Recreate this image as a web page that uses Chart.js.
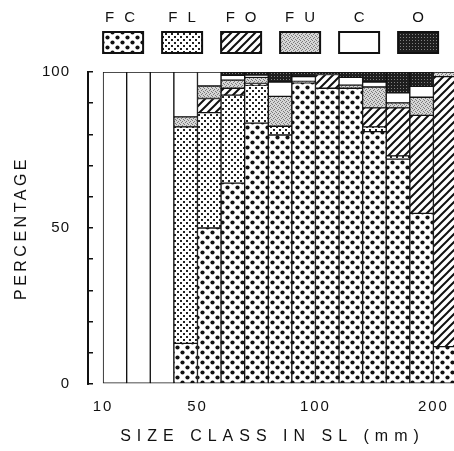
<!DOCTYPE html>
<html><head><meta charset="utf-8">
<script src="https://cdn.jsdelivr.net/npm/chart.js@4.4.0/dist/chart.umd.min.js"></script>
<style>
html,body{margin:0;padding:0;background:#fff;overflow:hidden;width:454px;height:451px}
#wrap{position:absolute;left:0;top:0;width:470px;height:451px}
</style></head><body>
<div id="wrap"><canvas id="c" width="470" height="451"></canvas></div>
<script>
// size classes (lower bound of class, SL in mm)
const categories = [10,20,30,40,50,60,70,80,90,100,120,140,160,180,200];
const tickLabels = ['10','50','100','200'];
const yTickLabels = [0,50,100];
const seriesNames = ['FC','FL','FO','FU','C','O'];
const FC = [0,0,0,13,50,64.4,83.6,79.8,96.5,94.8,94.8,80.9,72.1,54.7,12];
const FL = [0,0,0,69.4,37,28.2,12.2,2.8,0,0,0,1.5,1,0,0];
const FO = [0,0,0,0,4.5,2.2,0.5,0,0,4.4,0,6.1,15.4,31.4,86.5];
const FU = [0,0,0,3.2,4,2.6,2,9.6,0.5,0,1,6.7,1.6,5.8,1.5];
const C  = [100,100,100,14.4,4.5,1.5,0.7,4.6,1.5,0,2.5,1.6,3.2,3.5,0];
const O  = [0,0,0,0,0,1.1,1,3.2,1.5,0.8,1.7,3.2,6.7,4.6,0];

const canvas = document.getElementById('c');
const mainCtx = canvas.getContext('2d');
function makePattern(w,h,draw){
  const t=document.createElement('canvas'); t.width=w; t.height=h;
  const g=t.getContext('2d'); draw(g,w,h);
  return mainCtx.createPattern(t,'repeat');
}
const pFC = makePattern(10,10,(g,w,h)=>{g.fillStyle='#fff';g.fillRect(0,0,w,h);g.fillStyle='#111';
  [[2.5,2.5],[7.5,7.5]].forEach(([x,y])=>{g.beginPath();g.arc(x,y,2.1,0,Math.PI*2);g.fill();});});
const pFL = makePattern(6,6,(g,w,h)=>{g.fillStyle='#fff';g.fillRect(0,0,w,h);g.fillStyle='#222';
  g.fillRect(0,0,2,2);g.fillRect(3,3,2,2);});
const pFO = makePattern(8,8,(g,w,h)=>{g.fillStyle='#fff';g.fillRect(0,0,w,h);g.strokeStyle='#111';g.lineWidth=2;
  g.beginPath();g.moveTo(-1,9);g.lineTo(9,-1);g.moveTo(-5,5);g.lineTo(5,-5);g.moveTo(3,13);g.lineTo(13,3);g.stroke();});
const pFU = makePattern(4,4,(g,w,h)=>{g.fillStyle='#d6d6d6';g.fillRect(0,0,w,h);g.fillStyle='#7a7a7a';
  [[0,0],[2,1],[1,2],[3,3]].forEach(([x,y])=>g.fillRect(x,y,1,1));});
const pC = '#ffffff';
const pO = makePattern(3,3,(g,w,h)=>{g.fillStyle='#1e1e1e';g.fillRect(0,0,w,h);g.fillStyle='#808080';g.fillRect(1,1,1,1);});

const seriesValues = [FC,FL,FO,FU,C,O];
const fills = [pFC,pFL,pFO,pFU,pC,pO];

const datasets = seriesNames.map((name,k)=>({
  label: name,
  data: seriesValues[k].map((v,i)=>({x:i+0.5, y: v ? v : null})),
  backgroundColor: fills[k],
  borderColor: '#111',
  borderWidth: 1,
  borderSkipped: false,
  barPercentage: 1,
  categoryPercentage: 1
}));

function withSpacing(fn, sp){
  return function(...a){ const ctx=this.ctx; ctx.save(); ctx.letterSpacing=sp; fn.apply(this,a); ctx.restore(); };
}
const spacingPlugin = {
  id:'spacing',
  afterUpdate(chart){
    const x=chart.scales.x, y=chart.scales.y;
    if(!x.$sp){ x.drawTitle=withSpacing(x.drawTitle,'6px'); x.drawLabels=withSpacing(x.drawLabels,'2px'); x.$sp=1; }
    if(!y.$sp){ y.drawTitle=withSpacing(y.drawTitle,'3.5px'); y.drawLabels=withSpacing(y.drawLabels,'1px'); y.$sp=1; }
  }
};
// y axis line drawn through the y scale
const axisLinePlugin = {
  id:'axisLine',
  afterDraw(chart){
    const y = chart.scales.y, ctx = chart.ctx;
    ctx.save(); ctx.strokeStyle='#111'; ctx.lineWidth=2;
    ctx.beginPath(); ctx.moveTo(y.right, y.getPixelForValue(y.max)-0.75); ctx.lineTo(y.right, y.getPixelForValue(y.min)+0.75); ctx.stroke();
    ctx.restore();
  }
};
const legendPlugin = {
  id:'topLegend',
  afterDraw(chart){
    const ctx=chart.ctx;
    const left = chart.scales.x.getPixelForValue(0);
    const sp = 10;
    chart.data.datasets.forEach((ds,i)=>{
      const x = left + i*59, y = 32, w = 40, h = 21;
      ctx.save();
      ctx.fillStyle = ds.backgroundColor; ctx.fillRect(x,y,w,h);
      ctx.lineWidth = 2; ctx.strokeStyle = '#111'; ctx.strokeRect(x,y,w,h);
      ctx.font = '15px "Liberation Sans", Arial, sans-serif';
      ctx.letterSpacing = sp + 'px';
      ctx.textAlign = 'left'; ctx.textBaseline = 'middle'; ctx.fillStyle = '#111';
      const tw = ctx.measureText(ds.label).width - sp;
      ctx.fillText(ds.label, x + w/2 - tw/2 - (i === 0 ? 3 : 0), 18);
      ctx.restore();
    });
  }
};

new Chart(canvas, {
  type: 'bar',
  data: { datasets },
  options: {
    responsive: false,
    animation: false,
    devicePixelRatio: 1,
    layout: { padding: { top: 72, right: 13, bottom: 5, left: 0 } },
    plugins: { legend: { display: false }, tooltip: { enabled: false } },
    scales: {
      x: {
        type: 'linear', stacked: true, offset: false, min: -0.64, max: categories.length,
        afterFit: (s) => { s.height = 62; },
        grid: { display: false, drawTicks: false, offset: false },
        border: { display: false },
        afterBuildTicks: (s) => { s.ticks = tickLabels.map(l => ({ value: categories.indexOf(Number(l)) })); },
        ticks: { autoSkip: false, maxRotation: 0, padding: 14, color: '#111',
          font: { family: '"Liberation Sans", Arial, sans-serif', size: 15 },
          callback: (v) => String(categories[v]) },
        title: { display: true, text: 'SIZE CLASS IN SL (mm)', color: '#111',
          font: { family: '"Liberation Sans", Arial, sans-serif', size: 16 }, padding: { top: 11, bottom: 0 } }
      },
      y: {
        stacked: true, min: 0, max: 100,
        afterFit: (s) => { s.width = 88; },
        grid: { drawOnChartArea: false, drawTicks: true, tickLength: -5, color: '#111', lineWidth: 1.5 },
        border: { display: true, color: '#111', width: 2 },
        ticks: { stepSize: 10, autoSkip: false, padding: 23, color: '#111',
          font: { family: '"Liberation Sans", Arial, sans-serif', size: 15 },
          callback: (v) => yTickLabels.includes(v) ? String(v) : '' },
        title: { display: true, text: 'PERCENTAGE', color: '#111',
          font: { family: '"Liberation Sans", Arial, sans-serif', size: 16 }, padding: { top: 12, bottom: 0 } }
      }
    }
  },
  plugins: [spacingPlugin, axisLinePlugin, legendPlugin]
});
</script>
</body></html>
